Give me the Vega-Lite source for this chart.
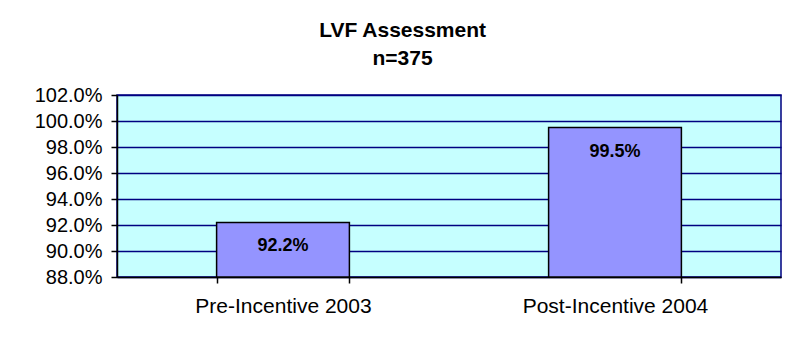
{
  "$schema": "https://vega.github.io/schema/vega-lite/v6.json",
  "autosize": "none",
  "width": 664,
  "height": 182,
  "padding": {"left": 117, "top": 95, "right": 19, "bottom": 76},
  "background": "white",
  "title": {
    "text": ["LVF Assessment", "n=375"],
    "font": "Liberation Sans",
    "fontSize": 21,
    "fontWeight": "bold",
    "lineHeight": 28,
    "anchor": "middle",
    "frame": "bounds",
    "offset": 16,
    "dx": -5,
    "color": "black"
  },
  "data": {
    "values": [
      {"period": "Pre-Incentive 2003", "rate": 0.922},
      {"period": "Post-Incentive 2004", "rate": 0.995}
    ]
  },
  "encoding": {
    "x": {
      "field": "period",
      "type": "nominal",
      "sort": null,
      "scale": {"paddingInner": 0.6, "paddingOuter": 0.3},
      "axis": {
        "title": null,
        "labelAngle": 0,
        "labelFont": "Liberation Sans",
        "labelFontSize": 21,
        "labelColor": "black",
        "labelPadding": 12,
        "labelLimit": 400,
        "tickBand": "extent",
        "tickSize": 6,
        "tickColor": "black",
        "tickWidth": 1.5,
        "domainColor": "black",
        "domainWidth": 1.5,
        "grid": false
      }
    },
    "y": {
      "field": "rate",
      "type": "quantitative",
      "scale": {"domain": [0.88, 1.02], "zero": false, "nice": false},
      "axis": {
        "title": null,
        "format": ".1%",
        "values": [0.88, 0.9, 0.92, 0.94, 0.96, 0.98, 1.0, 1.02],
        "labelFont": "Liberation Sans",
        "labelFontSize": 20,
        "labelColor": "black",
        "labelPadding": 9,
        "tickSize": 6,
        "tickColor": "black",
        "tickWidth": 1.5,
        "domainColor": "black",
        "domainWidth": 1.5,
        "grid": true,
        "gridColor": "#000080",
        "gridWidth": 1.5,
        "gridOpacity": 1
      }
    }
  },
  "layer": [
    {
      "mark": {"type": "bar", "fill": "#9494FF", "stroke": "black", "strokeWidth": 1.5},
      "encoding": {"y2": {"datum": 0.88}}
    },
    {
      "mark": {
        "type": "text",
        "baseline": "middle",
        "dy": 24,
        "font": "Liberation Sans",
        "fontSize": 18,
        "fontWeight": "bold",
        "color": "black"
      },
      "encoding": {
        "text": {"field": "rate", "type": "quantitative", "format": ".1%"}
      }
    }
  ],
  "config": {
    "view": {"fill": "#C6FFFF", "stroke": "#000080", "strokeWidth": 1.5}
  }
}
